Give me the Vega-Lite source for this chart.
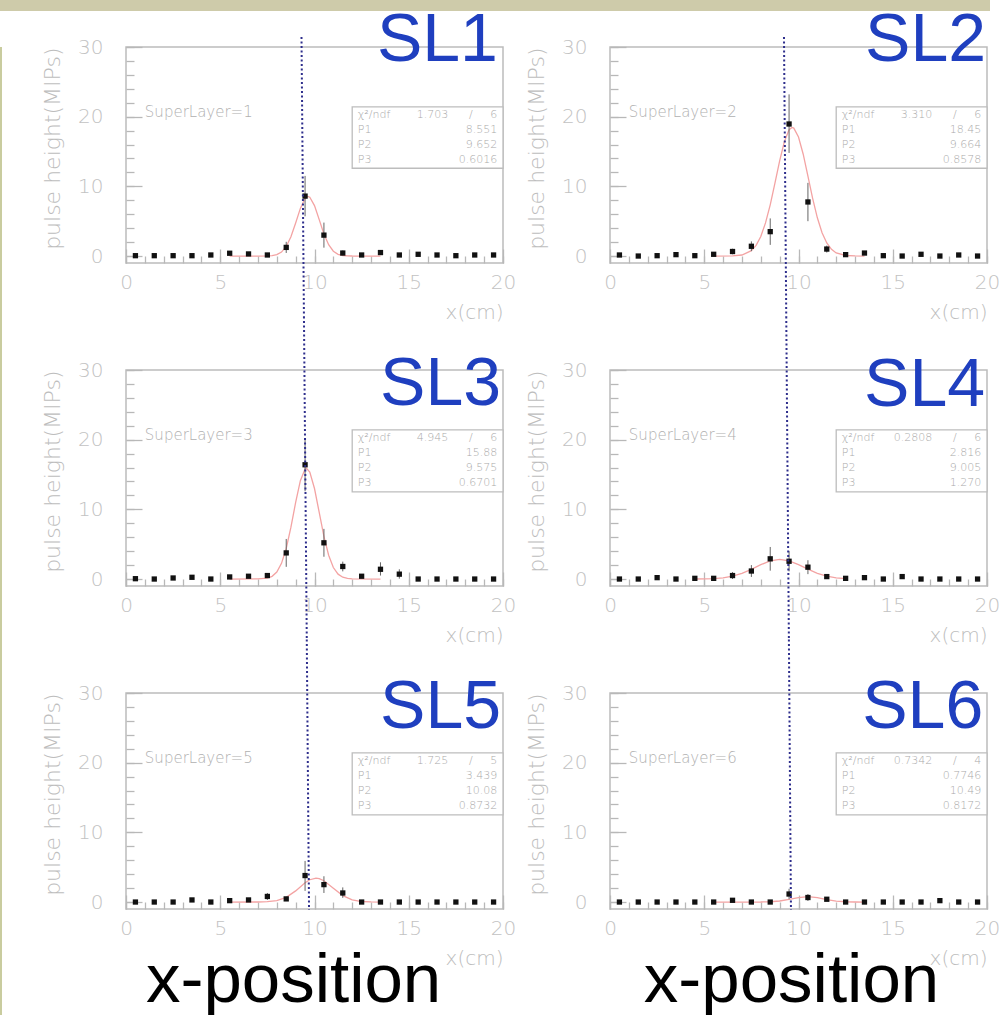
{
  "$schema": "https://vega.github.io/schema/vega-lite/v6.json",
  "background": "white",
  "padding": 0,
  "bounds": "flush",
  "spacing": 36,
  "config": {
    "view": {"stroke": "#bcbcbc", "strokeWidth": 1.5, "fill": "white"}
  },
  "vconcat": [
    {
      "width": 990,
      "height": 11,
      "view": {"fill": "#cecbaa", "stroke": null},
      "data": {"values": [{"t": " "}]},
      "mark": {"type": "text", "fontSize": 1, "opacity": 0},
      "encoding": {"text": {"field": "t"}}
    },
    {
      "bounds": "flush",
      "spacing": 124,
      "hconcat": [
        {
          "width": 2,
          "height": 968,
          "view": {"fill": "#c9cc9f", "stroke": null},
          "data": {"values": [{"t": " "}]},
          "mark": {"type": "text", "fontSize": 1, "opacity": 0},
          "encoding": {"text": {"field": "t"}}
        },
        {
          "bounds": "flush",
          "columns": 2,
          "spacing": {"row": 107, "column": 107},
          "resolve": {"axis": {"x": "independent", "y": "independent"}},
          "data": {"values": [
            {"p":1,"k":"pt","x":0.5,"y":0.05},{"p":1,"k":"pt","x":1.5,"y":0.05},{"p":1,"k":"pt","x":2.5,"y":0.05},{"p":1,"k":"pt","x":3.5,"y":0.05},
            {"p":1,"k":"pt","x":4.5,"y":0.15},{"p":1,"k":"pt","x":5.5,"y":0.4},{"p":1,"k":"pt","x":6.5,"y":0.3},{"p":1,"k":"pt","x":7.5,"y":0.15},
            {"p":1,"k":"pt","x":8.5,"y":1.24,"lo":0.44,"hi":2.04},{"p":1,"k":"pt","x":9.5,"y":8.6,"lo":5.7,"hi":11.5},{"p":1,"k":"pt","x":10.5,"y":3.0,"lo":1.2,"hi":4.8},
            {"p":1,"k":"pt","x":11.5,"y":0.43,"lo":0.1,"hi":0.8},{"p":1,"k":"pt","x":12.5,"y":0.15},{"p":1,"k":"pt","x":13.5,"y":0.5},{"p":1,"k":"pt","x":14.5,"y":0.15},
            {"p":1,"k":"pt","x":15.5,"y":0.25},{"p":1,"k":"pt","x":16.5,"y":0.15},{"p":1,"k":"pt","x":17.5,"y":0.05},{"p":1,"k":"pt","x":18.5,"y":0.15},{"p":1,"k":"pt","x":19.5,"y":0.15},

            {"p":2,"k":"pt","x":0.5,"y":0.15},{"p":2,"k":"pt","x":1.5,"y":0},{"p":2,"k":"pt","x":2.5,"y":0.05},{"p":2,"k":"pt","x":3.5,"y":0.2},
            {"p":2,"k":"pt","x":4.5,"y":0.05},{"p":2,"k":"pt","x":5.5,"y":0.25},{"p":2,"k":"pt","x":6.5,"y":0.65,"lo":0.25,"hi":1.05},{"p":2,"k":"pt","x":7.5,"y":1.4,"lo":0.7,"hi":2.1},
            {"p":2,"k":"pt","x":8.5,"y":3.5,"lo":1.6,"hi":5.4},{"p":2,"k":"pt","x":9.5,"y":18.95,"lo":14.8,"hi":23.2},{"p":2,"k":"pt","x":10.5,"y":7.76,"lo":5.0,"hi":10.5},
            {"p":2,"k":"pt","x":11.5,"y":1.0,"lo":0.5,"hi":1.5},{"p":2,"k":"pt","x":12.5,"y":0.2},{"p":2,"k":"pt","x":13.5,"y":0.43},{"p":2,"k":"pt","x":14.5,"y":0.05},
            {"p":2,"k":"pt","x":15.5,"y":0},{"p":2,"k":"pt","x":16.5,"y":0.25},{"p":2,"k":"pt","x":17.5,"y":0},{"p":2,"k":"pt","x":18.5,"y":0.15},{"p":2,"k":"pt","x":19.5,"y":0},

            {"p":3,"k":"pt","x":0.5,"y":0.05},{"p":3,"k":"pt","x":1.5,"y":0},{"p":3,"k":"pt","x":2.5,"y":0.15},{"p":3,"k":"pt","x":3.5,"y":0.25},
            {"p":3,"k":"pt","x":4.5,"y":0},{"p":3,"k":"pt","x":5.5,"y":0.3},{"p":3,"k":"pt","x":6.5,"y":0.4},{"p":3,"k":"pt","x":7.5,"y":0.5},
            {"p":3,"k":"pt","x":8.5,"y":3.75,"lo":1.75,"hi":5.75},{"p":3,"k":"pt","x":9.5,"y":16.4,"lo":12.6,"hi":20.2},{"p":3,"k":"pt","x":10.5,"y":5.2,"lo":3.2,"hi":7.2},
            {"p":3,"k":"pt","x":11.5,"y":1.8,"lo":1.1,"hi":2.5},{"p":3,"k":"pt","x":12.5,"y":0.4},{"p":3,"k":"pt","x":13.5,"y":1.4,"lo":0.5,"hi":2.4},{"p":3,"k":"pt","x":14.5,"y":0.7,"lo":0.05,"hi":1.4},
            {"p":3,"k":"pt","x":15.5,"y":0},{"p":3,"k":"pt","x":16.5,"y":0},{"p":3,"k":"pt","x":17.5,"y":0},{"p":3,"k":"pt","x":18.5,"y":0},{"p":3,"k":"pt","x":19.5,"y":0},

            {"p":4,"k":"pt","x":0.5,"y":0},{"p":4,"k":"pt","x":1.5,"y":0},{"p":4,"k":"pt","x":2.5,"y":0.2},{"p":4,"k":"pt","x":3.5,"y":0},
            {"p":4,"k":"pt","x":4.5,"y":0.1},{"p":4,"k":"pt","x":5.5,"y":0.1},{"p":4,"k":"pt","x":6.5,"y":0.5,"lo":0.0,"hi":1.0},{"p":4,"k":"pt","x":7.5,"y":1.15,"lo":0.3,"hi":2.0},
            {"p":4,"k":"pt","x":8.5,"y":2.9,"lo":1.2,"hi":4.6},{"p":4,"k":"pt","x":9.5,"y":2.55,"lo":1.1,"hi":4.0},{"p":4,"k":"pt","x":10.5,"y":1.7,"lo":0.7,"hi":2.7},
            {"p":4,"k":"pt","x":11.5,"y":0.35},{"p":4,"k":"pt","x":12.5,"y":0.1},{"p":4,"k":"pt","x":13.5,"y":0.2},{"p":4,"k":"pt","x":14.5,"y":0},
            {"p":4,"k":"pt","x":15.5,"y":0.35},{"p":4,"k":"pt","x":16.5,"y":0},{"p":4,"k":"pt","x":17.5,"y":0},{"p":4,"k":"pt","x":18.5,"y":0},{"p":4,"k":"pt","x":19.5,"y":0},

            {"p":5,"k":"pt","x":0.5,"y":0},{"p":5,"k":"pt","x":1.5,"y":0},{"p":5,"k":"pt","x":2.5,"y":0},{"p":5,"k":"pt","x":3.5,"y":0.3},
            {"p":5,"k":"pt","x":4.5,"y":0},{"p":5,"k":"pt","x":5.5,"y":0.2},{"p":5,"k":"pt","x":6.5,"y":0.3},{"p":5,"k":"pt","x":7.5,"y":0.8,"lo":0.3,"hi":1.3},
            {"p":5,"k":"pt","x":8.5,"y":0.45},{"p":5,"k":"pt","x":9.5,"y":3.8,"lo":1.6,"hi":5.9},{"p":5,"k":"pt","x":10.5,"y":2.5,"lo":1.3,"hi":3.7},
            {"p":5,"k":"pt","x":11.5,"y":1.3,"lo":0.6,"hi":2.1},{"p":5,"k":"pt","x":12.5,"y":0},{"p":5,"k":"pt","x":13.5,"y":0},{"p":5,"k":"pt","x":14.5,"y":0},
            {"p":5,"k":"pt","x":15.5,"y":0},{"p":5,"k":"pt","x":16.5,"y":0},{"p":5,"k":"pt","x":17.5,"y":0},{"p":5,"k":"pt","x":18.5,"y":0},{"p":5,"k":"pt","x":19.5,"y":0},

            {"p":6,"k":"pt","x":0.5,"y":0},{"p":6,"k":"pt","x":1.5,"y":0},{"p":6,"k":"pt","x":2.5,"y":0},{"p":6,"k":"pt","x":3.5,"y":0},
            {"p":6,"k":"pt","x":4.5,"y":0},{"p":6,"k":"pt","x":5.5,"y":0},{"p":6,"k":"pt","x":6.5,"y":0.25},{"p":6,"k":"pt","x":7.5,"y":0},
            {"p":6,"k":"pt","x":8.5,"y":0},{"p":6,"k":"pt","x":9.5,"y":1.15,"lo":0.4,"hi":1.9},{"p":6,"k":"pt","x":10.5,"y":0.65,"lo":0.15,"hi":1.15},
            {"p":6,"k":"pt","x":11.5,"y":0.4},{"p":6,"k":"pt","x":12.5,"y":0},{"p":6,"k":"pt","x":13.5,"y":0},{"p":6,"k":"pt","x":14.5,"y":0},
            {"p":6,"k":"pt","x":15.5,"y":0},{"p":6,"k":"pt","x":16.5,"y":0},{"p":6,"k":"pt","x":17.5,"y":0.2},{"p":6,"k":"pt","x":18.5,"y":0},{"p":6,"k":"pt","x":19.5,"y":0},

            {"p":1,"k":"fit","x":5.5,"y":0},{"p":1,"k":"fit","x":7.0,"y":0.0005},{"p":1,"k":"fit","x":7.5,"y":0.014},{"p":1,"k":"fit","x":7.75,"y":0.058},
            {"p":1,"k":"fit","x":8.0,"y":0.197},{"p":1,"k":"fit","x":8.25,"y":0.566},{"p":1,"k":"fit","x":8.5,"y":1.367},{"p":1,"k":"fit","x":8.75,"y":2.78},
            {"p":1,"k":"fit","x":9.0,"y":4.75},{"p":1,"k":"fit","x":9.25,"y":6.84},{"p":1,"k":"fit","x":9.5,"y":8.28},{"p":1,"k":"fit","x":9.65,"y":8.551},
            {"p":1,"k":"fit","x":9.75,"y":8.44},{"p":1,"k":"fit","x":10.0,"y":7.24},{"p":1,"k":"fit","x":10.25,"y":5.22},{"p":1,"k":"fit","x":10.5,"y":3.16},
            {"p":1,"k":"fit","x":10.75,"y":1.62},{"p":1,"k":"fit","x":11.0,"y":0.694},{"p":1,"k":"fit","x":11.25,"y":0.252},{"p":1,"k":"fit","x":11.5,"y":0.076},
            {"p":1,"k":"fit","x":11.75,"y":0.02},{"p":1,"k":"fit","x":12.0,"y":0.004},{"p":1,"k":"fit","x":13.5,"y":0},

            {"p":2,"k":"fit","x":5.5,"y":0},{"p":2,"k":"fit","x":6.5,"y":0.021},{"p":2,"k":"fit","x":7.0,"y":0.148},{"p":2,"k":"fit","x":7.5,"y":0.765},
            {"p":2,"k":"fit","x":7.75,"y":1.53},{"p":2,"k":"fit","x":8.0,"y":2.81},{"p":2,"k":"fit","x":8.25,"y":4.75},{"p":2,"k":"fit","x":8.5,"y":7.35},
            {"p":2,"k":"fit","x":8.75,"y":10.45},{"p":2,"k":"fit","x":9.0,"y":13.67},{"p":2,"k":"fit","x":9.25,"y":16.42},{"p":2,"k":"fit","x":9.5,"y":18.12},
            {"p":2,"k":"fit","x":9.66,"y":18.45},{"p":2,"k":"fit","x":9.75,"y":18.36},{"p":2,"k":"fit","x":10.0,"y":17.09},{"p":2,"k":"fit","x":10.25,"y":14.61},
            {"p":2,"k":"fit","x":10.5,"y":11.47},{"p":2,"k":"fit","x":10.75,"y":8.28},{"p":2,"k":"fit","x":11.0,"y":5.49},{"p":2,"k":"fit","x":11.25,"y":3.34},
            {"p":2,"k":"fit","x":11.5,"y":1.87},{"p":2,"k":"fit","x":11.75,"y":0.96},{"p":2,"k":"fit","x":12.0,"y":0.45},{"p":2,"k":"fit","x":12.5,"y":0.078},
            {"p":2,"k":"fit","x":13.0,"y":0.01},{"p":2,"k":"fit","x":13.5,"y":0},

            {"p":3,"k":"fit","x":5.5,"y":0},{"p":3,"k":"fit","x":7.0,"y":0.01},{"p":3,"k":"fit","x":7.5,"y":0.131},{"p":3,"k":"fit","x":7.75,"y":0.39},
            {"p":3,"k":"fit","x":8.0,"y":1.0},{"p":3,"k":"fit","x":8.25,"y":2.25},{"p":3,"k":"fit","x":8.5,"y":4.38},{"p":3,"k":"fit","x":8.75,"y":7.44},
            {"p":3,"k":"fit","x":9.0,"y":10.99},{"p":3,"k":"fit","x":9.25,"y":14.12},{"p":3,"k":"fit","x":9.5,"y":15.78},{"p":3,"k":"fit","x":9.575,"y":15.88},
            {"p":3,"k":"fit","x":9.75,"y":15.35},{"p":3,"k":"fit","x":10.0,"y":12.99},{"p":3,"k":"fit","x":10.25,"y":9.56},{"p":3,"k":"fit","x":10.5,"y":6.13},
            {"p":3,"k":"fit","x":10.75,"y":3.42},{"p":3,"k":"fit","x":11.0,"y":1.65},{"p":3,"k":"fit","x":11.25,"y":0.70},{"p":3,"k":"fit","x":11.5,"y":0.26},
            {"p":3,"k":"fit","x":11.75,"y":0.08},{"p":3,"k":"fit","x":12.0,"y":0.02},{"p":3,"k":"fit","x":13.5,"y":0},

            {"p":4,"k":"fit","x":4.5,"y":0.005},{"p":4,"k":"fit","x":5.5,"y":0.063},{"p":4,"k":"fit","x":6.0,"y":0.171},{"p":4,"k":"fit","x":6.5,"y":0.403},
            {"p":4,"k":"fit","x":7.0,"y":0.81},{"p":4,"k":"fit","x":7.5,"y":1.395},{"p":4,"k":"fit","x":8.0,"y":2.06},{"p":4,"k":"fit","x":8.5,"y":2.60},
            {"p":4,"k":"fit","x":9.0,"y":2.816},{"p":4,"k":"fit","x":9.5,"y":2.61},{"p":4,"k":"fit","x":10.0,"y":2.07},{"p":4,"k":"fit","x":10.5,"y":1.41},
            {"p":4,"k":"fit","x":11.0,"y":0.82},{"p":4,"k":"fit","x":11.5,"y":0.41},{"p":4,"k":"fit","x":12.0,"y":0.175},{"p":4,"k":"fit","x":12.5,"y":0.064},

            {"p":5,"k":"fit","x":5.5,"y":0},{"p":5,"k":"fit","x":7.0,"y":0.007},{"p":5,"k":"fit","x":7.5,"y":0.044},{"p":5,"k":"fit","x":8.0,"y":0.20},
            {"p":5,"k":"fit","x":8.5,"y":0.67},{"p":5,"k":"fit","x":9.0,"y":1.60},{"p":5,"k":"fit","x":9.5,"y":2.76},{"p":5,"k":"fit","x":9.75,"y":3.20},
            {"p":5,"k":"fit","x":10.08,"y":3.439},{"p":5,"k":"fit","x":10.25,"y":3.37},{"p":5,"k":"fit","x":10.5,"y":3.06},{"p":5,"k":"fit","x":11.0,"y":1.97},
            {"p":5,"k":"fit","x":11.5,"y":0.92},{"p":5,"k":"fit","x":12.0,"y":0.31},{"p":5,"k":"fit","x":12.5,"y":0.074},{"p":5,"k":"fit","x":13.0,"y":0.013},{"p":5,"k":"fit","x":13.5,"y":0},

            {"p":6,"k":"fit","x":5.5,"y":0},{"p":6,"k":"fit","x":8.0,"y":0.007},{"p":6,"k":"fit","x":8.5,"y":0.04},{"p":6,"k":"fit","x":9.0,"y":0.147},
            {"p":6,"k":"fit","x":9.5,"y":0.372},{"p":6,"k":"fit","x":10.0,"y":0.647},{"p":6,"k":"fit","x":10.5,"y":0.7746},{"p":6,"k":"fit","x":11.0,"y":0.637},
            {"p":6,"k":"fit","x":11.5,"y":0.361},{"p":6,"k":"fit","x":12.0,"y":0.14},{"p":6,"k":"fit","x":12.5,"y":0.038},{"p":6,"k":"fit","x":13.0,"y":0.007},{"p":6,"k":"fit","x":13.5,"y":0},

            {"p":1,"k":"box","x":12.0,"x2":20,"y":12.6,"y2":21.4},
            {"p":2,"k":"box","x":12.0,"x2":20,"y":12.6,"y2":21.4},
            {"p":3,"k":"box","x":12.0,"x2":20,"y":12.5,"y2":21.4},
            {"p":4,"k":"box","x":12.0,"x2":20,"y":12.5,"y2":21.4},
            {"p":5,"k":"box","x":12.0,"x2":20,"y":12.5,"y2":21.4},
            {"p":6,"k":"box","x":12.0,"x2":20,"y":12.5,"y2":21.4},

            {"p":1,"k":"sl","x":12.3,"y":20.2,"t":"χ²/ndf"},{"p":1,"k":"sl","x":12.3,"y":18.05,"t":"P1"},{"p":1,"k":"sl","x":12.3,"y":15.9,"t":"P2"},{"p":1,"k":"sl","x":12.3,"y":13.75,"t":"P3"},
            {"p":1,"k":"sr","x":17.1,"y":20.2,"t":"1.703"},{"p":1,"k":"sr","x":18.4,"y":20.2,"t":"/"},{"p":1,"k":"sr","x":19.7,"y":20.2,"t":"6"},
            {"p":1,"k":"sr","x":19.7,"y":18.05,"t":"8.551"},{"p":1,"k":"sr","x":19.7,"y":15.9,"t":"9.652"},{"p":1,"k":"sr","x":19.7,"y":13.75,"t":"0.6016"},

            {"p":2,"k":"sl","x":12.3,"y":20.2,"t":"χ²/ndf"},{"p":2,"k":"sl","x":12.3,"y":18.05,"t":"P1"},{"p":2,"k":"sl","x":12.3,"y":15.9,"t":"P2"},{"p":2,"k":"sl","x":12.3,"y":13.75,"t":"P3"},
            {"p":2,"k":"sr","x":17.1,"y":20.2,"t":"3.310"},{"p":2,"k":"sr","x":18.4,"y":20.2,"t":"/"},{"p":2,"k":"sr","x":19.7,"y":20.2,"t":"6"},
            {"p":2,"k":"sr","x":19.7,"y":18.05,"t":"18.45"},{"p":2,"k":"sr","x":19.7,"y":15.9,"t":"9.664"},{"p":2,"k":"sr","x":19.7,"y":13.75,"t":"0.8578"},

            {"p":3,"k":"sl","x":12.3,"y":20.2,"t":"χ²/ndf"},{"p":3,"k":"sl","x":12.3,"y":18.05,"t":"P1"},{"p":3,"k":"sl","x":12.3,"y":15.9,"t":"P2"},{"p":3,"k":"sl","x":12.3,"y":13.75,"t":"P3"},
            {"p":3,"k":"sr","x":17.1,"y":20.2,"t":"4.945"},{"p":3,"k":"sr","x":18.4,"y":20.2,"t":"/"},{"p":3,"k":"sr","x":19.7,"y":20.2,"t":"6"},
            {"p":3,"k":"sr","x":19.7,"y":18.05,"t":"15.88"},{"p":3,"k":"sr","x":19.7,"y":15.9,"t":"9.575"},{"p":3,"k":"sr","x":19.7,"y":13.75,"t":"0.6701"},

            {"p":4,"k":"sl","x":12.3,"y":20.2,"t":"χ²/ndf"},{"p":4,"k":"sl","x":12.3,"y":18.05,"t":"P1"},{"p":4,"k":"sl","x":12.3,"y":15.9,"t":"P2"},{"p":4,"k":"sl","x":12.3,"y":13.75,"t":"P3"},
            {"p":4,"k":"sr","x":17.1,"y":20.2,"t":"0.2808"},{"p":4,"k":"sr","x":18.4,"y":20.2,"t":"/"},{"p":4,"k":"sr","x":19.7,"y":20.2,"t":"6"},
            {"p":4,"k":"sr","x":19.7,"y":18.05,"t":"2.816"},{"p":4,"k":"sr","x":19.7,"y":15.9,"t":"9.005"},{"p":4,"k":"sr","x":19.7,"y":13.75,"t":"1.270"},

            {"p":5,"k":"sl","x":12.3,"y":20.2,"t":"χ²/ndf"},{"p":5,"k":"sl","x":12.3,"y":18.05,"t":"P1"},{"p":5,"k":"sl","x":12.3,"y":15.9,"t":"P2"},{"p":5,"k":"sl","x":12.3,"y":13.75,"t":"P3"},
            {"p":5,"k":"sr","x":17.1,"y":20.2,"t":"1.725"},{"p":5,"k":"sr","x":18.4,"y":20.2,"t":"/"},{"p":5,"k":"sr","x":19.7,"y":20.2,"t":"5"},
            {"p":5,"k":"sr","x":19.7,"y":18.05,"t":"3.439"},{"p":5,"k":"sr","x":19.7,"y":15.9,"t":"10.08"},{"p":5,"k":"sr","x":19.7,"y":13.75,"t":"0.8732"},

            {"p":6,"k":"sl","x":12.3,"y":20.2,"t":"χ²/ndf"},{"p":6,"k":"sl","x":12.3,"y":18.05,"t":"P1"},{"p":6,"k":"sl","x":12.3,"y":15.9,"t":"P2"},{"p":6,"k":"sl","x":12.3,"y":13.75,"t":"P3"},
            {"p":6,"k":"sr","x":17.1,"y":20.2,"t":"0.7342"},{"p":6,"k":"sr","x":18.4,"y":20.2,"t":"/"},{"p":6,"k":"sr","x":19.7,"y":20.2,"t":"4"},
            {"p":6,"k":"sr","x":19.7,"y":18.05,"t":"0.7746"},{"p":6,"k":"sr","x":19.7,"y":15.9,"t":"10.49"},{"p":6,"k":"sr","x":19.7,"y":13.75,"t":"0.8172"},

            {"p":1,"k":"note","x":1.0,"y":20.6,"t":"SuperLayer=1"},
            {"p":2,"k":"note","x":1.0,"y":20.6,"t":"SuperLayer=2"},
            {"p":3,"k":"note","x":1.0,"y":20.6,"t":"SuperLayer=3"},
            {"p":4,"k":"note","x":1.0,"y":20.6,"t":"SuperLayer=4"},
            {"p":5,"k":"note","x":1.0,"y":20.6,"t":"SuperLayer=5"},
            {"p":6,"k":"note","x":1.0,"y":20.6,"t":"SuperLayer=6"},

            {"p":1,"k":"tag","x":19.73,"y":28.0,"t":"SL1"},
            {"p":2,"k":"tag","x":19.95,"y":28.0,"t":"SL2"},
            {"p":3,"k":"tag","x":19.9,"y":25.0,"t":"SL3"},
            {"p":4,"k":"tag","x":19.9,"y":24.85,"t":"SL4"},
            {"p":5,"k":"tag","x":19.9,"y":25.0,"t":"SL5"},
            {"p":6,"k":"tag","x":19.8,"y":25.0,"t":"SL6"},

            {"p":1,"k":"guide","x":9.31,"x2":9.44,"y":31.44,"y2":-8.68},
            {"p":3,"k":"guide","x":9.44,"x2":9.59,"y":37.68,"y2":-8.68},
            {"p":5,"k":"guide","x":9.59,"x2":9.71,"y":37.68,"y2":-1.14},
            {"p":2,"k":"guide","x":9.23,"x2":9.35,"y":31.44,"y2":-8.68},
            {"p":4,"k":"guide","x":9.35,"x2":9.49,"y":37.68,"y2":-8.68},
            {"p":6,"k":"guide","x":9.49,"x2":9.6,"y":37.68,"y2":-1.14},

            {"p":5,"k":"xpos","x":8.89,"y":-14.3,"t":"x-position"},
            {"p":6,"k":"xpos","x":9.63,"y":-14.3,"t":"x-position"}
          ]},
          "facet": {"field": "p", "type": "ordinal", "title": null, "header": {"labels": false, "title": null, "labelFontSize": 0, "labelPadding": 0}},
          "spec": {
            "width": 377,
            "height": 216,
            "resolve": {"axis": {"x": "independent", "y": "independent"}},
            "layer": [
              {
                "transform": [{"filter": "datum.k == 'box'"}],
                "mark": {"type": "rect", "fill": "white", "stroke": "#bdbdbd", "strokeWidth": 1.3},
                "encoding": {
                  "x": {
                    "field": "x", "type": "quantitative",
                    "scale": {"domain": [0, 20], "nice": false, "zero": false},
                    "axis": {
                      "orient": "bottom",
                      "title": "x(cm)", "titleAnchor": "end", "titleFont": "DejaVu Sans", "titleFontWeight": 200,
                      "titleFontSize": 20, "titleColor": "#bdbdbd", "titlePadding": 10,
                      "values": [0, 5, 10, 15, 20],
                      "labelFont": "DejaVu Sans", "labelFontWeight": 200, "labelFontSize": 20, "labelColor": "#c2c2c2",
                      "labelPadding": 23, "labelFlush": false, "labelOverlap": false,
                      "domain": false, "grid": false, "ticks": true, "tickSize": -14, "tickColor": "#b8b8b8", "tickWidth": 1.3
                    }
                  },
                  "x2": {"field": "x2"},
                  "y": {
                    "field": "y", "type": "quantitative",
                    "scale": {"domain": [-1, 30], "nice": false, "zero": false},
                    "axis": {
                      "orient": "left",
                      "title": "pulse height(MIPs)", "titleAnchor": "end", "titleFont": "DejaVu Sans", "titleFontWeight": 200,
                      "titleFontSize": 22, "titleColor": "#bdbdbd", "titlePadding": 13,
                      "values": [0, 10, 20, 30],
                      "labelFont": "DejaVu Sans", "labelFontWeight": 200, "labelFontSize": 20, "labelColor": "#c2c2c2",
                      "labelPadding": 39, "labelFlush": false, "labelOverlap": false,
                      "domain": false, "grid": false, "ticks": true, "tickSize": -16, "tickColor": "#b8b8b8", "tickWidth": 1.3
                    }
                  },
                  "y2": {"field": "y2"}
                }
              },
              {
                "transform": [{"filter": "datum.k == 'fit'"}],
                "mark": {"type": "line", "color": "#f3a3a3", "strokeWidth": 1.3},
                "encoding": {
                  "x": {"field": "x", "type": "quantitative", "axis": null},
                  "y": {"field": "y", "type": "quantitative", "axis": null}
                }
              },
              {
                "transform": [{"filter": "datum.k == 'pt' && isValid(datum.hi)"}],
                "mark": {"type": "rule", "color": "#666666", "strokeWidth": 1},
                "encoding": {
                  "x": {"field": "x", "type": "quantitative", "axis": null},
                  "y": {"field": "lo", "type": "quantitative", "axis": null},
                  "y2": {"field": "hi"}
                }
              },
              {
                "transform": [{"filter": "datum.k == 'pt'"}],
                "mark": {"type": "point", "shape": "square", "filled": true, "size": 28, "color": "#111111", "opacity": 1},
                "encoding": {
                  "x": {
                    "field": "x", "type": "quantitative",
                    "axis": {
                      "orient": "bottom", "title": null, "labels": false, "domain": false, "grid": false,
                      "values": [0,1,2,3,4,5,6,7,8,9,10,11,12,13,14,15,16,17,18,19,20],
                      "ticks": true, "tickSize": -7, "tickColor": "#b8b8b8", "tickWidth": 1.3
                    }
                  },
                  "y": {
                    "field": "y", "type": "quantitative",
                    "axis": {
                      "orient": "left", "title": null, "labels": false, "domain": false, "grid": false,
                      "values": [0,2,4,6,8,10,12,14,16,18,20,22,24,26,28,30],
                      "ticks": true, "tickSize": -8, "tickColor": "#b8b8b8", "tickWidth": 1.3
                    }
                  }
                }
              },
              {
                "transform": [{"filter": "datum.k == 'sl'"}],
                "mark": {"type": "text", "align": "left", "baseline": "middle", "font": "DejaVu Sans", "fontWeight": 200, "fontSize": 11, "color": "#aaaaaa"},
                "encoding": {
                  "x": {"field": "x", "type": "quantitative", "axis": null},
                  "y": {"field": "y", "type": "quantitative", "axis": null},
                  "text": {"field": "t"}
                }
              },
              {
                "transform": [{"filter": "datum.k == 'sr'"}],
                "mark": {"type": "text", "align": "right", "baseline": "middle", "font": "DejaVu Sans", "fontWeight": 200, "fontSize": 11, "color": "#aaaaaa"},
                "encoding": {
                  "x": {"field": "x", "type": "quantitative", "axis": null},
                  "y": {"field": "y", "type": "quantitative", "axis": null},
                  "text": {"field": "t"}
                }
              },
              {
                "transform": [{"filter": "datum.k == 'note'"}],
                "mark": {"type": "text", "align": "left", "baseline": "middle", "font": "DejaVu Sans", "fontWeight": 200, "fontSize": 15, "color": "#b0b0b0"},
                "encoding": {
                  "x": {"field": "x", "type": "quantitative", "axis": null},
                  "y": {"field": "y", "type": "quantitative", "axis": null},
                  "text": {"field": "t"}
                }
              },
              {
                "transform": [{"filter": "datum.k == 'tag'"}],
                "mark": {"type": "text", "align": "right", "baseline": "alphabetic", "font": "Liberation Sans", "fontSize": 68, "color": "#1f3fbf"},
                "encoding": {
                  "x": {"field": "x", "type": "quantitative", "axis": null},
                  "y": {"field": "y", "type": "quantitative", "axis": null},
                  "text": {"field": "t"}
                }
              },
              {
                "transform": [{"filter": "datum.k == 'guide'"}],
                "mark": {"type": "rule", "color": "#2e2e8c", "strokeWidth": 2, "strokeDash": [2, 2.5], "clip": false},
                "encoding": {
                  "x": {"field": "x", "type": "quantitative", "axis": null},
                  "x2": {"field": "x2"},
                  "y": {"field": "y", "type": "quantitative", "axis": null},
                  "y2": {"field": "y2"}
                }
              },
              {
                "transform": [{"filter": "datum.k == 'xpos'"}],
                "mark": {"type": "text", "align": "center", "baseline": "alphabetic", "font": "Liberation Sans", "fontSize": 69, "color": "black"},
                "encoding": {
                  "x": {"field": "x", "type": "quantitative", "axis": null},
                  "y": {"field": "y", "type": "quantitative", "axis": null},
                  "text": {"field": "t"}
                }
              }
            ]
          }
        }
      ]
    }
  ]
}
